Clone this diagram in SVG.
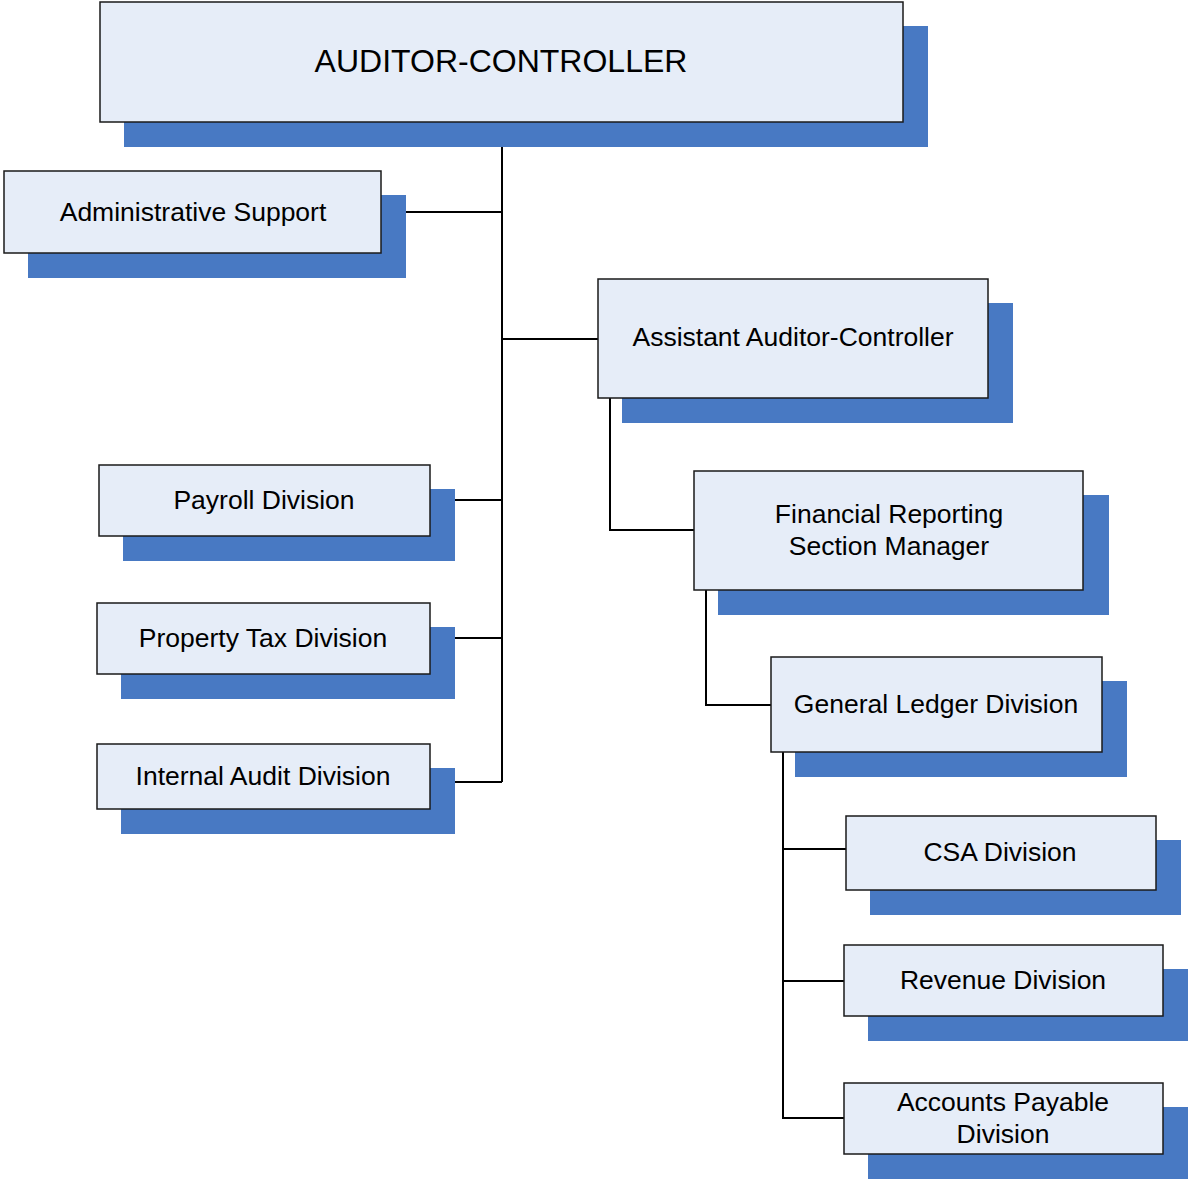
<svg xmlns="http://www.w3.org/2000/svg" width="1188" height="1180" viewBox="0 0 1188 1180">
  <style>
    .shadow { fill: #4879C3; }
    .box { fill: #E6EDF8; stroke: #1a1a1a; stroke-width: 1.5; }
    .label { font-family: "Liberation Sans", Arial, sans-serif; font-size: 26.5px; fill: #000; text-anchor: middle; dominant-baseline: central; }
    .title { font-size: 32px; }
    .wire { fill: none; stroke: #000; stroke-width: 2; }
  </style>

  <rect width="1188" height="1180" fill="#fff"/>

  <g id="connectors">
    <!-- main trunk under the Auditor-Controller -->
    <path class="wire" d="M502 122 V782"/>
    <path class="wire" d="M406 212 H502"/>
    <path class="wire" d="M502 339 H598"/>
    <path class="wire" d="M454 500 H502"/>
    <path class="wire" d="M454 638 H502"/>
    <path class="wire" d="M454 782 H502"/>
    <!-- assistant branch -->
    <path class="wire" d="M610 398 V530 H694"/>
    <path class="wire" d="M706 590 V705 H771"/>
    <!-- general ledger branch -->
    <path class="wire" d="M783 752 V1118 H844"/>
    <path class="wire" d="M783 849 H846"/>
    <path class="wire" d="M783 981 H844"/>
  </g>

  <g id="auditor-controller">
    <rect class="shadow" x="124" y="26" width="804" height="121"/>
    <rect class="box" x="100" y="2" width="803" height="120"/>
    <text class="label title" x="501" y="61">AUDITOR-CONTROLLER</text>
  </g>

  <g id="administrative-support">
    <rect class="shadow" x="28" y="195" width="378" height="83"/>
    <rect class="box" x="4" y="171" width="377" height="82"/>
    <text class="label" x="193" y="212">Administrative Support</text>
  </g>

  <g id="assistant-auditor-controller">
    <rect class="shadow" x="622" y="303" width="391" height="120"/>
    <rect class="box" x="598" y="279" width="390" height="119"/>
    <text class="label" x="793" y="337">Assistant Auditor-Controller</text>
  </g>

  <g id="payroll-division">
    <rect class="shadow" x="123" y="489" width="332" height="72"/>
    <rect class="box" x="99" y="465" width="331" height="71"/>
    <text class="label" x="264" y="500">Payroll Division</text>
  </g>

  <g id="property-tax-division">
    <rect class="shadow" x="121" y="627" width="334" height="72"/>
    <rect class="box" x="97" y="603" width="333" height="71"/>
    <text class="label" x="263" y="638">Property Tax Division</text>
  </g>

  <g id="internal-audit-division">
    <rect class="shadow" x="121" y="768" width="334" height="66"/>
    <rect class="box" x="97" y="744" width="333" height="65"/>
    <text class="label" x="263" y="776">Internal Audit Division</text>
  </g>

  <g id="financial-reporting">
    <rect class="shadow" x="718" y="495" width="391" height="120"/>
    <rect class="box" x="694" y="471" width="389" height="119"/>
    <text class="label" x="889" y="514">Financial Reporting</text>
    <text class="label" x="889" y="546">Section Manager</text>
  </g>

  <g id="general-ledger-division">
    <rect class="shadow" x="795" y="681" width="332" height="96"/>
    <rect class="box" x="771" y="657" width="331" height="95"/>
    <text class="label" x="936" y="704">General Ledger Division</text>
  </g>

  <g id="csa-division">
    <rect class="shadow" x="870" y="840" width="311" height="75"/>
    <rect class="box" x="846" y="816" width="310" height="74"/>
    <text class="label" x="1000" y="852">CSA Division</text>
  </g>

  <g id="revenue-division">
    <rect class="shadow" x="868" y="969" width="320" height="72"/>
    <rect class="box" x="844" y="945" width="319" height="71"/>
    <text class="label" x="1003" y="980">Revenue Division</text>
  </g>

  <g id="accounts-payable-division">
    <rect class="shadow" x="868" y="1107" width="320" height="72"/>
    <rect class="box" x="844" y="1083" width="319" height="71"/>
    <text class="label" x="1003" y="1102">Accounts Payable</text>
    <text class="label" x="1003" y="1134">Division</text>
  </g>
</svg>
